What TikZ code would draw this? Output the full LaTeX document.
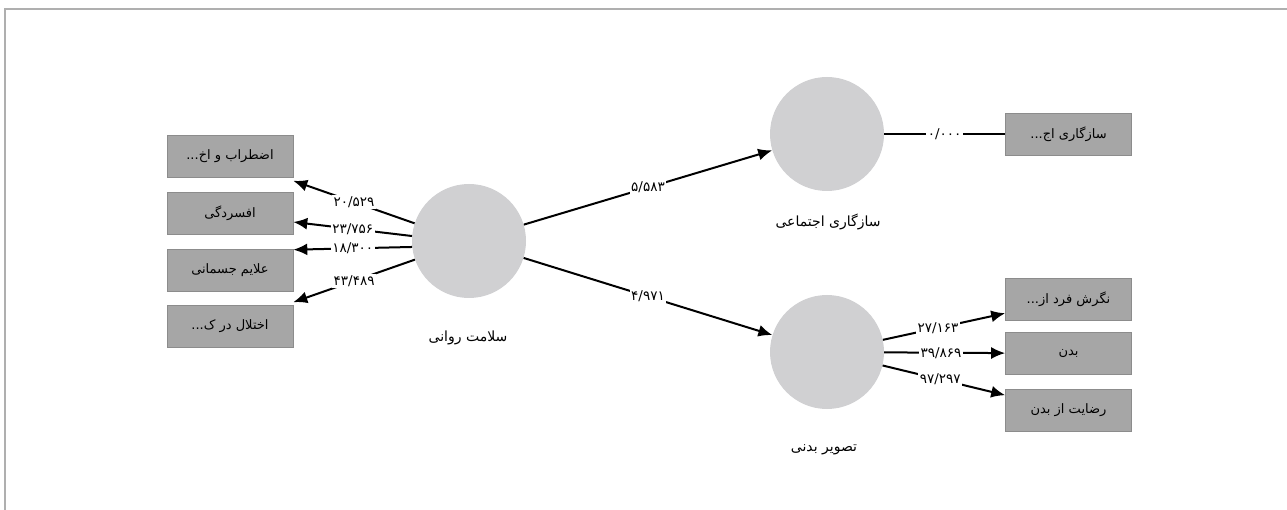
\documentclass[tikz,border=0pt]{standalone}
\usepackage{fontspec}
\setmainfont{DejaVu Sans}
\newfontfamily\fa[Script=Arabic]{DejaVu Sans}
\TeXXeTstate=1
\usetikzlibrary{arrows.meta,calc}
\definecolor{circfill}{RGB}{208,208,210}
\definecolor{boxfill}{RGB}{166,166,166}
\definecolor{boxline}{RGB}{140,140,140}
\definecolor{framecol}{RGB}{175,175,175}
\begin{document}
\begin{tikzpicture}[x=1pt,y=-1pt,
  latent/.style={circle,fill=circfill,minimum size=114pt,inner sep=0pt},
  ind/.style={rectangle,fill=boxfill,draw=boxline,line width=0.6pt,minimum width=126pt,minimum height=42pt,inner sep=0pt,font=\fa\fontsize{13}{15}\selectfont},
  lbl/.style={font=\fa\fontsize{14}{16}\selectfont},
  pathedge/.style={line width=2pt,-{Latex[length=14pt,width=12pt]}},
  loadedge/.style={line width=2pt},
  coef/.style={fill=white,inner sep=1.5pt,font=\fa\fontsize{13.5}{15}\selectfont}
]
\useasboundingbox (0,0) rectangle (1287,510);
\draw[framecol,line width=2pt] (5,510) -- (5,9) -- (1287,9);

% latent variables
\node[latent] (c1) at (469,241) {};
\node[latent] (c2) at (827,134) {};
\node[latent] (c3) at (827,352) {};
\node[lbl] (l1) at (468,338) {\beginR سلامت روانی\endR};
\node[lbl] (l2) at (828,222) {\beginR سازگاری اجتماعی\endR};
\node[lbl] (l3) at (824,450) {\beginR تصویر بدنی\endR};

% left indicators
\node[ind] (b1) at (230,156.5) {...\beginR اضطراب و اخ\endR};
\node[ind] (b2) at (230,213) {\beginR افسردگی\endR};
\node[ind] (b3) at (230,270) {\beginR علایم جسمانی\endR};
\node[ind] (b4) at (230,326.5) {...\beginR اختلال در ک\endR};

% right indicators
\node[ind] (r1) at (1068.5,134) {...\beginR سازگاری اج\endR};
\node[ind] (r2) at (1068.5,299.5) {...\beginR نگرش فرد از\endR};
\node[ind] (r3) at (1068.5,353.5) {\beginR بدن\endR};
\node[ind] (r4) at (1068.5,410.5) {\beginR رضایت از بدن\endR};

% structural paths
\draw[pathedge] (c1) -- node[coef] {۵/۵۸۳} (c2);
\draw[pathedge] (c1) -- node[coef] {۴/۹۷۱} (c3);

% outer model
\draw[loadedge] (c2) -- node[coef] {۰/۰۰۰} (r1);
\draw[pathedge] (c3) -- node[coef,pos=0.45] {۲۷/۱۶۳} (r2);
\draw[pathedge] (c3) -- node[coef,pos=0.47] {۳۹/۸۶۹} (r3);
\draw[pathedge] (c3) -- node[coef,pos=0.47] {۹۷/۲۹۷} (r4);

\draw[pathedge] (c1.162) -- node[coef] {۲۰/۵۲۹} ([yshift=-3pt]b1.south east);
\draw[pathedge] (c1.175) -- node[coef] {۲۳/۷۵۶} ([yshift=-9pt]b2.east);
\draw[pathedge] (c1.186) -- node[coef] {۱۸/۳۰۰} ([yshift=-1pt]b3.north east);
\draw[pathedge] (c1.199) -- node[coef] {۴۳/۴۸۹} ([yshift=3pt]b4.north east);
\end{tikzpicture}
\end{document}
